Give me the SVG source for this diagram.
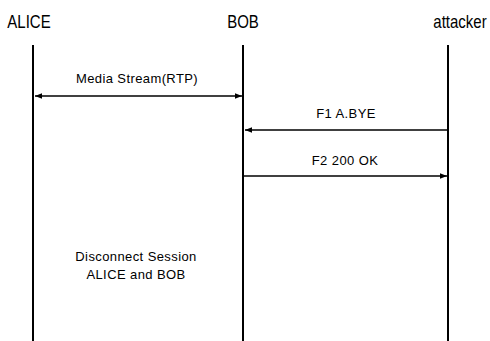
<svg xmlns="http://www.w3.org/2000/svg" width="490" height="341" viewBox="0 0 490 341">
<style>
.hdr{font-family:"Liberation Sans",Arial,sans-serif;font-size:15px;fill:#000;text-anchor:middle}
.lbl{font-family:"Liberation Sans",Arial,sans-serif;font-size:13px;letter-spacing:0.4px;fill:#000;text-anchor:middle}
.life{stroke:#000;stroke-width:2;fill:none}
.msg{stroke:#000;stroke-width:1.5;fill:none}
</style>
<defs>
<marker id="ah" viewBox="0 0 10 10" refX="10" refY="5" markerWidth="8" markerHeight="7" markerUnits="userSpaceOnUse" orient="auto-start-reverse">
<path d="M0,1 L10,5 L0,9 z" fill="#000"/>
</marker>
</defs>
<rect width="490" height="341" fill="#fff"/>
<g id="alice">
<text class="hdr" transform="translate(29,28) scale(1,1.2)">ALICE</text>
<line class="life" x1="33" y1="45" x2="33" y2="341"/>
</g>
<g id="bob">
<text class="hdr" transform="translate(243,28) scale(1,1.2)">BOB</text>
<line class="life" x1="243" y1="45" x2="243" y2="341"/>
</g>
<g id="attacker">
<text class="hdr" transform="translate(460,28) scale(1,1.2)">attacker</text>
<line class="life" x1="448" y1="45" x2="448" y2="341"/>
</g>
<g id="connectors">
<line class="msg" x1="35" y1="96" x2="242" y2="96" marker-start="url(#ah)" marker-end="url(#ah)"/>
<text class="lbl" x="137" y="83">Media Stream(RTP)</text>
<line class="msg" x1="447" y1="130" x2="245" y2="130" marker-end="url(#ah)"/>
<text class="lbl" x="346" y="118">F1 A.BYE</text>
<line class="msg" x1="244" y1="176" x2="447" y2="176" marker-end="url(#ah)"/>
<text class="lbl" x="345" y="165">F2 200 OK</text>
</g>
<g id="note">
<text class="lbl" x="136" y="261">Disconnect Session</text>
<text class="lbl" x="136" y="279">ALICE and BOB</text>
</g>
</svg>
